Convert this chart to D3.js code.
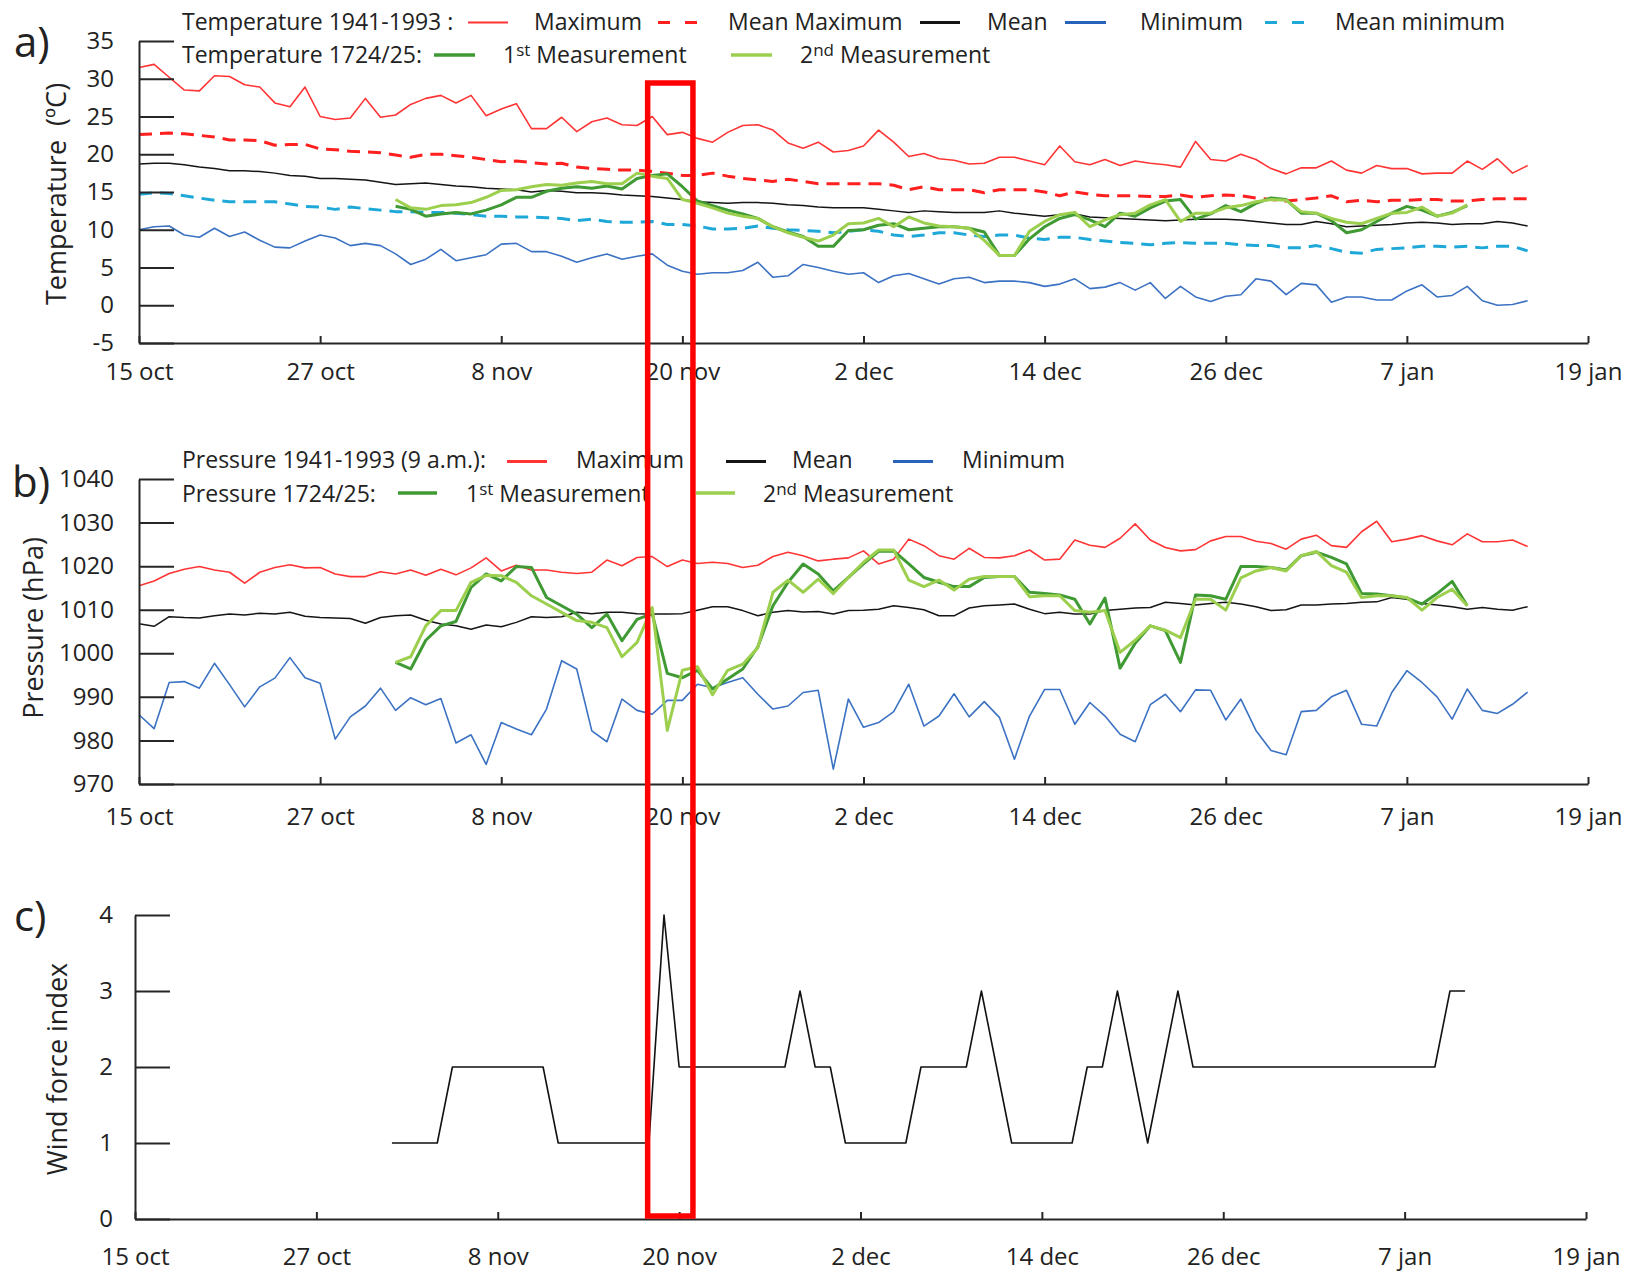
<!DOCTYPE html>
<html>
<head>
<meta charset="utf-8">
<script src="https://cdn.jsdelivr.net/npm/d3@7"></script>
<style>
  body { margin: 0; background: #fff; }
  svg text { font-family: "Open Sans", sans-serif; fill: #222; }
</style>
</head>
<body>
<svg id="chart" width="1649" height="1272"></svg>
<script>
// Day index 0 = 15 October; every series holds one value per day.
const xTickDays = [0, 12, 24, 36, 48, 60, 72, 84, 96];
const xTickLabels = ["15 oct", "27 oct", "8 nov", "20 nov", "2 dec", "14 dec", "26 dec", "7 jan", "19 jan"];
const tempTicks = [-5, 0, 5, 10, 15, 20, 25, 30, 35];
const pressTicks = [970, 980, 990, 1000, 1010, 1020, 1030, 1040];
const windTicks = [0, 1, 2, 3, 4];

// 1941-1993 climatology starts on day 0, the 1724/25 records on day 17
const climateStartDay = 0;
const recordStartDay = 17;

// Days highlighted by the red frame (18-21 November)
const highlightDays = [33.7, 36.7];

// Temperature 1941-1993 (ºC)
const tempMax = [
  31.5, 31.9, 30.2, 28.5, 28.4, 30.4, 30.3, 29.2, 28.9, 26.8,
  26.3, 28.9, 25.0, 24.6, 24.8, 27.4, 24.9, 25.2, 26.6, 27.4,
  27.8, 26.8, 27.8, 25.1, 26.0, 26.7, 23.4, 23.4, 24.9, 23.0,
  24.3, 24.8, 23.9, 23.8, 25.0, 22.6, 22.9, 22.1, 21.6, 22.9,
  23.8, 23.9, 23.2, 21.5, 20.8, 21.6, 20.3, 20.5, 21.1, 23.2,
  21.6, 19.7, 20.1, 19.4, 19.2, 18.7, 18.8, 19.6, 19.6, 19.1,
  18.6, 21.1, 19.0, 18.6, 19.3, 18.5, 19.1, 18.8, 18.6, 18.3,
  21.7, 19.3, 19.1, 20.0, 19.3, 18.1, 17.4, 18.2, 18.2, 19.1,
  17.9, 17.5, 18.5, 18.1, 18.1, 17.4, 17.5, 17.5, 19.1, 18.0,
  19.4, 17.5, 18.5
];
const tempMeanMax = [
  22.6, 22.7, 22.8, 22.7, 22.5, 22.3, 21.9, 21.9, 21.8, 21.2,
  21.3, 21.3, 20.7, 20.6, 20.4, 20.3, 20.2, 19.9, 19.6, 20.0,
  20.0, 19.8, 19.6, 19.3, 19.0, 19.1, 18.9, 18.7, 18.8, 18.3,
  18.1, 18.0, 17.9, 17.9, 17.7, 17.5, 17.2, 17.2, 17.5, 17.1,
  16.8, 16.6, 16.4, 16.7, 16.4, 16.1, 16.1, 16.1, 16.1, 16.1,
  15.9, 15.3, 15.7, 15.3, 15.3, 15.3, 14.9, 15.3, 15.3, 15.3,
  15.0, 14.5, 15.0, 14.7, 14.5, 14.5, 14.5, 14.4, 14.4, 14.6,
  14.3, 14.5, 14.6, 14.5, 14.2, 14.0, 13.8, 14.0, 14.2, 14.5,
  13.7, 13.9, 13.7, 13.9, 13.9, 14.0, 14.0, 13.8, 13.8, 14.0,
  14.1, 14.1, 14.1
];
const tempMean = [
  18.7, 18.8, 18.8, 18.6, 18.3, 18.1, 17.8, 17.8, 17.7, 17.5,
  17.2, 17.1, 16.8, 16.8, 16.7, 16.6, 16.3, 16.0, 16.1, 16.2,
  16.0, 15.8, 15.7, 15.5, 15.4, 15.3, 15.0, 15.2, 15.1, 14.9,
  14.9, 14.8, 14.6, 14.5, 14.4, 14.2, 14.0, 13.7, 13.6, 13.5,
  13.6, 13.6, 13.5, 13.3, 13.2, 13.0, 12.9, 12.9, 12.9, 12.7,
  12.5, 12.3, 12.5, 12.4, 12.3, 12.3, 12.3, 12.5, 12.2, 12.0,
  11.8, 12.0, 12.1, 11.7, 11.6, 11.5, 11.4, 11.3, 11.2, 11.3,
  11.4, 11.4, 11.4, 11.3, 11.1, 10.9, 10.7, 10.7, 11.1, 10.8,
  10.4, 10.5, 10.6, 10.7, 10.9, 11.0, 10.9, 10.7, 10.8, 10.8,
  11.1, 10.9, 10.5
];
const tempMin = [
  10.0, 10.4, 10.5, 9.3, 9.0, 10.2, 9.1, 9.7, 8.6, 7.7,
  7.6, 8.5, 9.3, 8.9, 7.9, 8.2, 7.9, 6.8, 5.4, 6.1,
  7.4, 5.9, 6.3, 6.7, 8.1, 8.2, 7.1, 7.1, 6.5, 5.7,
  6.3, 6.8, 6.1, 6.5, 6.8, 5.3, 4.5, 4.1, 4.3, 4.3,
  4.6, 5.7, 3.7, 3.9, 5.4, 5.0, 4.5, 4.1, 4.3, 3.0,
  3.9, 4.2, 3.5, 2.8, 3.5, 3.7, 3.0, 3.2, 3.2, 3.0,
  2.5, 2.8, 3.5, 2.2, 2.4, 3.0, 2.0, 3.0, 0.9, 2.5,
  1.1, 0.5, 1.2, 1.4, 3.5, 3.2, 1.4, 2.9, 2.7, 0.4,
  1.1, 1.1, 0.7, 0.7, 1.9, 2.7, 1.1, 1.3, 2.5, 0.6,
  0.0, 0.1, 0.6
];
const tempMeanMin = [
  14.7, 14.9, 14.8, 14.5, 14.2, 13.9, 13.7, 13.7, 13.7, 13.7,
  13.4, 13.1, 13.0, 12.7, 13.0, 12.8, 12.6, 12.4, 12.4, 12.3,
  12.3, 12.2, 12.0, 11.8, 11.8, 11.7, 11.7, 11.6, 11.5, 11.2,
  11.4, 11.1, 11.0, 11.0, 11.1, 10.7, 10.7, 10.5, 10.1, 10.1,
  10.2, 10.5, 10.2, 10.0, 9.9, 9.8, 9.6, 9.8, 10.0, 9.8,
  9.3, 9.1, 9.3, 9.6, 9.6, 9.3, 9.1, 9.3, 9.3, 8.9,
  8.7, 9.0, 9.0, 8.7, 8.5, 8.3, 8.2, 8.0, 8.2, 8.3,
  8.2, 8.2, 8.2, 8.0, 7.9, 7.9, 7.6, 7.6, 7.9, 7.5,
  7.0, 6.9, 7.4, 7.5, 7.6, 7.8, 7.8, 7.7, 7.8, 7.6,
  7.8, 7.8, 7.2
];

// Temperature 1724/25 (ºC), from day 17
const temp1st = [
  13.1, 12.7, 11.8, 12.1, 12.3, 12.1, 12.6, 13.3, 14.3, 14.3,
  15.1, 15.5, 15.7, 15.5, 15.8, 15.4, 16.8, 17.2, 17.4, 15.7,
  13.8, 13.2, 12.6, 12.1, 11.5, 10.4, 9.7, 9.1, 7.8, 7.8,
  9.9, 10.0, 10.6, 10.8, 10.0, 10.2, 10.4, 10.4, 10.2, 9.7,
  6.6, 6.6, 8.8, 10.4, 11.5, 12.0, 11.3, 10.4, 12.2, 11.8,
  12.9, 13.8, 14.0, 11.4, 12.1, 13.2, 12.4, 13.5, 14.2, 14.0,
  12.2, 12.2, 11.2, 9.6, 10.0, 11.1, 12.2, 13.1, 12.6, 11.8,
  12.3, 13.2
];
const temp2nd = [
  14.0, 12.9, 12.7, 13.2, 13.3, 13.6, 14.3, 15.2, 15.3, 15.7,
  16.0, 15.9, 16.2, 16.4, 16.1, 16.1, 17.5, 17.1, 16.8, 14.0,
  13.5, 12.9, 12.2, 11.8, 11.5, 10.4, 9.6, 9.0, 8.5, 9.3,
  10.8, 10.9, 11.5, 10.4, 11.7, 10.9, 10.5, 10.4, 10.2, 8.6,
  6.6, 6.6, 9.8, 11.1, 12.0, 12.3, 10.4, 11.3, 12.0, 12.2,
  13.3, 14.0, 11.1, 12.2, 12.2, 12.9, 13.2, 13.7, 14.0, 13.9,
  12.4, 12.2, 11.5, 11.0, 10.8, 11.5, 12.2, 12.3, 13.0, 11.8,
  12.2, 13.3
];

// Pressure 1941-1993, 9 a.m. (hPa)
const pressMax = [
  1015.5, 1016.6, 1018.3, 1019.3, 1019.9, 1019.1, 1018.6, 1016.1, 1018.6, 1019.7,
  1020.3, 1019.6, 1019.7, 1018.2, 1017.6, 1017.6, 1018.7, 1018.2, 1019.1, 1017.9,
  1019.3, 1018.0, 1019.6, 1021.9, 1018.9, 1020.2, 1019.1, 1019.1, 1018.6, 1018.3,
  1018.6, 1021.4, 1020.1, 1022.0, 1022.2, 1019.9, 1021.4, 1020.6, 1020.9, 1020.6,
  1019.7, 1020.2, 1022.2, 1023.2, 1022.4, 1021.2, 1021.6, 1021.9, 1023.5, 1020.5,
  1021.6, 1026.2, 1024.7, 1022.4, 1021.6, 1024.1, 1022.0, 1021.9, 1022.4, 1023.7,
  1021.4, 1021.6, 1026.0, 1024.8, 1024.3, 1026.4, 1029.7, 1026.0, 1024.3, 1023.5,
  1023.8, 1025.8, 1026.8, 1026.8, 1025.7, 1025.2, 1023.9, 1026.2, 1027.1, 1024.7,
  1024.3, 1027.9, 1030.3, 1025.6, 1026.2, 1027.0, 1025.8, 1024.9, 1027.4, 1025.6,
  1025.6, 1026.0, 1024.5
];
const pressMean = [
  1006.8, 1006.2, 1008.4, 1008.2, 1008.1, 1008.6, 1009.0, 1008.8, 1009.2, 1009.0,
  1009.4, 1008.5, 1008.2, 1008.1, 1008.0, 1006.9, 1008.2, 1008.6, 1008.8, 1007.6,
  1006.7, 1006.3, 1005.5, 1006.5, 1006.1, 1007.1, 1008.4, 1008.2, 1008.4, 1009.4,
  1009.1, 1009.4, 1009.4, 1009.1, 1009.0, 1009.0, 1009.1, 1009.9, 1010.7, 1010.7,
  1009.8, 1008.6, 1009.4, 1009.8, 1009.5, 1009.6, 1009.0, 1009.8, 1009.9, 1010.1,
  1010.9, 1010.5, 1010.0, 1008.6, 1008.6, 1010.4, 1010.9, 1011.1, 1011.3, 1010.1,
  1009.1, 1009.4, 1009.0, 1009.0, 1009.8, 1010.1, 1010.4, 1010.5, 1011.7, 1011.4,
  1011.1, 1011.4, 1011.7, 1011.3, 1010.7, 1009.8, 1010.0, 1011.1, 1011.1, 1011.3,
  1011.4, 1011.7, 1011.8, 1012.8, 1012.4, 1011.4, 1011.1, 1010.7, 1010.1, 1010.5,
  1010.1, 1009.9, 1010.7
];
const pressMin = [
  985.9, 982.7, 993.3, 993.5, 992.0, 997.7, 992.8, 987.7, 992.3, 994.3,
  999.0, 994.4, 993.1, 980.3, 985.4, 987.9, 992.0, 986.9, 989.8, 988.2,
  989.6, 979.4, 981.3, 974.5, 984.1, 982.6, 981.3, 987.2, 998.3, 996.4,
  982.2, 979.7, 989.5, 986.9, 986.0, 989.2, 989.2, 992.9, 992.1, 993.3,
  994.4, 990.6, 987.2, 987.9, 991.0, 991.5, 973.4, 989.5, 983.0, 984.1,
  986.6, 992.9, 983.3, 985.6, 990.7, 985.4, 988.9, 985.3, 975.7, 985.6,
  991.7, 991.7, 983.7, 988.7, 985.6, 981.4, 979.7, 988.2, 990.6, 986.6,
  991.6, 991.5, 984.7, 989.5, 982.3, 977.7, 976.7, 986.6, 986.9, 990.0,
  991.5, 983.7, 983.3, 991.0, 996.0, 993.3, 990.0, 984.9, 991.8, 986.9,
  986.2, 988.3, 991.1
];

// Pressure 1724/25 (hPa), from day 17
const press1st = [
  997.9, 996.4, 1003.0, 1006.3, 1007.3, 1015.1, 1018.2, 1016.6, 1019.9, 1019.7,
  1012.8, 1010.9, 1009.0, 1005.9, 1009.0, 1002.9, 1007.8, 1009.1, 995.4, 994.4,
  996.1, 991.8, 994.1, 996.4, 1001.5, 1010.9, 1016.3, 1020.5, 1018.2, 1014.3,
  1017.4, 1020.5, 1023.4, 1023.5, 1020.5, 1017.4, 1016.3, 1015.3, 1015.3, 1017.4,
  1017.6, 1017.6, 1014.0, 1013.7, 1013.4, 1012.4, 1006.7, 1012.7, 996.6, 1002.3,
  1006.3, 1005.2, 997.9, 1013.4, 1013.2, 1012.4, 1019.9, 1019.9, 1019.7, 1019.1,
  1022.4, 1023.2, 1022.0, 1020.5, 1013.7, 1013.6, 1013.2, 1012.7, 1011.3, 1013.7,
  1016.5, 1010.9
];
const press2nd = [
  997.9, 999.2, 1006.3, 1009.8, 1009.8, 1016.3, 1017.9, 1017.8, 1016.3, 1013.2,
  1011.3, 1009.4, 1007.5, 1007.1, 1005.9, 999.2, 1002.5, 1010.5, 982.3, 996.1,
  996.9, 990.5, 996.1, 997.5, 1001.3, 1014.0, 1016.8, 1014.0, 1017.0, 1013.7,
  1017.4, 1020.9, 1023.7, 1023.7, 1016.8, 1015.3, 1016.8, 1014.5, 1017.0, 1017.6,
  1017.6, 1017.6, 1013.0, 1013.2, 1013.2, 1009.8, 1009.4, 1009.8, 1000.2, 1003.0,
  1006.3, 1005.3, 1003.6, 1012.4, 1012.4, 1009.9, 1017.3, 1018.9, 1019.7, 1018.9,
  1022.4, 1023.4, 1020.1, 1018.6, 1012.8, 1013.2, 1013.2, 1012.8, 1009.9, 1012.8,
  1014.7, 1010.9
];

// Wind force index 1724/25, from day 17
const windForce = [
  1, 1, 1, 1, 2, 2, 2, 2, 2, 2,
  2, 1, 1, 1, 1, 1, 1, 1, 4, 2,
  2, 2, 2, 2, 2, 2, 2, 3, 2, 2,
  1, 1, 1, 1, 1, 2, 2, 2, 2, 3,
  2, 1, 1, 1, 1, 1, 2, 2, 3, 2,
  1, 2, 3, 2, 2, 2, 2, 2, 2, 2,
  2, 2, 2, 2, 2, 2, 2, 2, 2, 2,
  3, 3
];

// ---------- drawing ----------
const COLORS = {
  red: "#ff3535",
  redDash: "#ff1f1f",
  black: "#151515",
  blue: "#3b72c3",
  blueKey: "#2763bb",
  cyan: "#1ea8d8",
  darkGreen: "#3f9a34",
  lightGreen: "#9ccf4e",
  axis: "#262626"
};

// plain integer labels with an ASCII hyphen for negatives
const plainNumber = d => String(d);

const svg = d3.select("#chart");
svg.append("rect").attr("width", 1649).attr("height", 1272).attr("fill", "#fff");

function drawPanel(cfg) {
  const x = d3.scaleLinear().domain([0, 96]).range(cfg.xRange);
  const y = d3.scaleLinear().domain(cfg.yDomain).range(cfg.yRange);
  const g = svg.append("g");

  // data lines
  cfg.series.forEach(s => {
    const line = d3.line()
      .defined(v => v != null)
      .x((v, i) => x(s.start + i))
      .y(v => y(v));
    g.append("path")
      .datum(s.values)
      .attr("fill", "none")
      .attr("stroke", s.color)
      .attr("stroke-width", s.width)
      .attr("stroke-linejoin", "round")
      .attr("stroke-dasharray", s.dash || null)
      .attr("d", line);
  });

  // x axis with inward ticks
  const xAxis = d3.axisBottom(x)
    .tickValues(xTickDays)
    .tickFormat((d, i) => xTickLabels[i])
    .tickSizeInner(-7)
    .tickSizeOuter(0)
    .tickPadding(cfg.xPad);
  const gx = g.append("g")
    .attr("transform", `translate(0,${cfg.yRange[0]})`)
    .call(xAxis)
    .attr("font-family", null)
    .attr("font-size", 24);

  // y axis, ticks pointing into the plot
  const yAxis = d3.axisLeft(y)
    .tickValues(cfg.yTicks)
    .tickFormat(plainNumber)
    .tickSizeInner(-35)
    .tickSizeOuter(0)
    .tickPadding(cfg.yPad);
  const gy = g.append("g")
    .attr("transform", `translate(${cfg.xRange[0]},0)`)
    .call(yAxis)
    .attr("font-family", null)
    .attr("font-size", 24);

  [gx, gy].forEach(a => {
    a.select(".domain").attr("stroke", COLORS.axis).attr("stroke-width", 2);
    a.selectAll(".tick line").attr("stroke", COLORS.axis).attr("stroke-width", 2);
    a.selectAll(".tick text").attr("fill", "#222");
  });

  // axis title
  g.append("text")
    .attr("transform", `translate(${cfg.titlePos[0]},${cfg.titlePos[1]}) rotate(-90)`)
    .attr("text-anchor", "middle")
    .attr("font-size", 27)
    .attr("xml:space", "preserve")
    .style("white-space", "pre")
    .text(cfg.title);

  // panel letter
  g.append("text")
    .attr("x", cfg.letterPos[0])
    .attr("y", cfg.letterPos[1])
    .attr("font-size", 42)
    .text(cfg.letter);

  return { x, y };
}

function legendRow(baseline, lineY, items) {
  const g = svg.append("g").attr("font-size", 23);
  items.forEach(it => {
    if (it.text !== undefined) {
      const t = g.append("text").attr("x", it.x).attr("y", baseline);
      if (it.sup) {
        t.append("tspan").text(it.text[0]);
        t.append("tspan").attr("font-size", 17).attr("dy", -7).text(it.sup);
        t.append("tspan").attr("dy", 7).text(it.text[1]);
      } else {
        t.text(it.text);
      }
    } else {
      g.append("line")
        .attr("x1", it.x1).attr("x2", it.x2)
        .attr("y1", lineY).attr("y2", lineY)
        .attr("stroke", it.color)
        .attr("stroke-width", it.width || 3)
        .attr("stroke-dasharray", it.dash || null);
    }
  });
}

// a) temperature
const pa = drawPanel({
  xRange: [139, 1588],
  yDomain: [-5, 35],
  yRange: [343, 41],
  yTicks: tempTicks,
  xPad: 20,
  yPad: 25,
  title: "Temperature  (ºC)",
  titlePos: [66, 194],
  letter: "a)",
  letterPos: [14, 57],
  series: [
    { values: tempMax, start: climateStartDay, color: COLORS.red, width: 1.6 },
    { values: tempMeanMax, start: climateStartDay, color: COLORS.redDash, width: 3, dash: "13,8" },
    { values: tempMean, start: climateStartDay, color: COLORS.black, width: 1.5 },
    { values: tempMin, start: climateStartDay, color: COLORS.blue, width: 1.6 },
    { values: tempMeanMin, start: climateStartDay, color: COLORS.cyan, width: 3, dash: "13,8" },
    { values: temp1st, start: recordStartDay, color: COLORS.darkGreen, width: 3 },
    { values: temp2nd, start: recordStartDay, color: COLORS.lightGreen, width: 3 }
  ]
});

legendRow(30, 22.5, [
  { text: "Temperature 1941-1993 :", x: 182 },
  { x1: 468, x2: 508, color: COLORS.red, width: 2 },
  { text: "Maximum", x: 534 },
  { x1: 658, x2: 697, color: COLORS.redDash, dash: "12,15", width: 3 },
  { text: "Mean Maximum", x: 728 },
  { x1: 920, x2: 960, color: COLORS.black, width: 3 },
  { text: "Mean", x: 987 },
  { x1: 1065, x2: 1106, color: COLORS.blueKey, width: 3 },
  { text: "Minimum", x: 1140 },
  { x1: 1265, x2: 1305, color: COLORS.cyan, dash: "12,15", width: 3 },
  { text: "Mean minimum", x: 1335 }
]);
legendRow(63, 55, [
  { text: "Temperature 1724/25:", x: 182 },
  { x1: 434, x2: 475, color: COLORS.darkGreen, width: 3.5 },
  { text: ["1", " Measurement"], sup: "st", x: 503 },
  { x1: 731, x2: 772, color: COLORS.lightGreen, width: 3.5 },
  { text: ["2", " Measurement"], sup: "nd", x: 800 }
]);

// b) pressure
drawPanel({
  xRange: [139, 1588],
  yDomain: [970, 1040],
  yRange: [784, 479],
  yTicks: pressTicks,
  xPad: 24,
  yPad: 25,
  title: "Pressure (hPa)",
  titlePos: [43, 628],
  letter: "b)",
  letterPos: [12, 497],
  series: [
    { values: pressMax, start: climateStartDay, color: COLORS.red, width: 1.6 },
    { values: pressMean, start: climateStartDay, color: COLORS.black, width: 1.5 },
    { values: pressMin, start: climateStartDay, color: COLORS.blue, width: 1.6 },
    { values: press1st, start: recordStartDay, color: COLORS.darkGreen, width: 3 },
    { values: press2nd, start: recordStartDay, color: COLORS.lightGreen, width: 3 }
  ]
});

legendRow(468, 461.5, [
  { text: "Pressure 1941-1993 (9 a.m.):", x: 182 },
  { x1: 507, x2: 547, color: COLORS.red, width: 3 },
  { text: "Maximum", x: 576 },
  { x1: 726, x2: 766, color: COLORS.black, width: 3 },
  { text: "Mean", x: 792 },
  { x1: 893, x2: 933, color: COLORS.blueKey, width: 3 },
  { text: "Minimum", x: 962 }
]);
legendRow(502, 493, [
  { text: "Pressure 1724/25:", x: 182 },
  { x1: 398, x2: 437, color: COLORS.darkGreen, width: 3.5 },
  { text: ["1", " Measurement"], sup: "st", x: 466 },
  { x1: 696, x2: 735, color: COLORS.lightGreen, width: 3.5 },
  { text: ["2", " Measurement"], sup: "nd", x: 763 }
]);

// c) wind force
drawPanel({
  xRange: [135, 1586],
  yDomain: [0, 4],
  yRange: [1219, 915],
  yTicks: windTicks,
  xPad: 29,
  yPad: 22,
  title: "Wind force index",
  titlePos: [67, 1069],
  letter: "c)",
  letterPos: [14, 931],
  series: [
    { values: windForce, start: recordStartDay, color: "#111", width: 1.6 }
  ]
});

// red frame around the 18-21 November event, spanning all three panels
svg.append("rect")
  .attr("x", pa.x(highlightDays[0]))
  .attr("y", 83)
  .attr("width", pa.x(highlightDays[1]) - pa.x(highlightDays[0]))
  .attr("height", 1216 - 83)
  .attr("fill", "none")
  .attr("stroke", "#ff0000")
  .attr("stroke-width", 5.5);
</script>
</body>
</html>
